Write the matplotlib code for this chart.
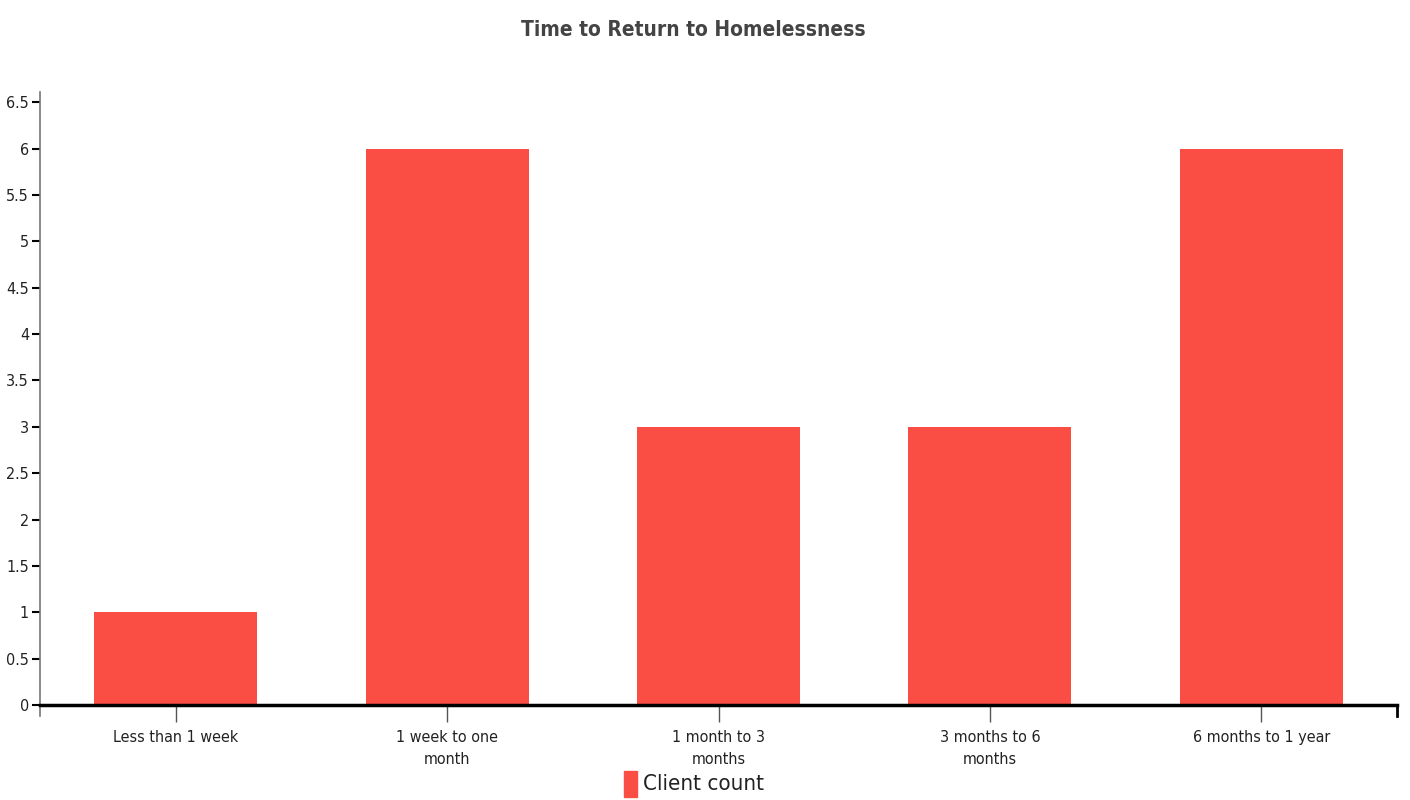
import matplotlib
matplotlib.use('Agg')
import matplotlib.pyplot as plt
from matplotlib.ticker import MultipleLocator, FormatStrFormatter

categories = ['Less than 1 week', '1 week to one\nmonth', '1 month to 3\nmonths',
              '3 months to 6\nmonths', '6 months to 1 year']
client_count = [1, 6, 3, 3, 6]

bar_color = '#fa4e44'
font = dict(fontfamily='DejaVu Sans', fontstretch='condensed')

fig = plt.figure(figsize=(14.1, 8), dpi=100)
ax = fig.add_axes([40 / 1410, 95 / 800, 1357 / 1410, 613 / 800])

x = list(range(len(categories)))
ax.bar(x, client_count, width=0.6, color=bar_color, zorder=2)

ax.set_xlim(-0.5, len(categories) - 0.5)
ax.set_ylim(0, 6.61)
ax.yaxis.set_major_locator(MultipleLocator(0.5))
ax.yaxis.set_major_formatter(FormatStrFormatter('%g'))
ax.set_xticks(x)
ax.set_xticklabels(categories, fontsize=11.5, color='#222222', linespacing=1.55, **font)
for lab in ax.get_yticklabels():
    lab.set_fontsize(11.5)
    lab.set_fontstretch('condensed')
    lab.set_color('#222222')

ax.tick_params(axis='y', length=6, width=1.5, color='black', pad=2)
ax.tick_params(axis='x', length=12, width=1, color='#555555', pad=6)

for s in ['top', 'right']:
    ax.spines[s].set_visible(False)
ax.spines['left'].set_color('#777777')
ax.spines['left'].set_linewidth(1.2)
ax.spines['left'].set_bounds(0, 6.61)
ax.spines['bottom'].set_color('black')
ax.spines['bottom'].set_linewidth(2.5)
ax.spines['bottom'].set_zorder(3)

# outer ticks at both ends of the x domain
ax.plot([-0.5, -0.5], [0, -0.12], color='#777777', lw=1.2, clip_on=False)
ax.plot([4.5, 4.5], [0, -0.12], color='black', lw=2, clip_on=False)

fig.text(0.492, 0.963, 'Time to Return to Homelessness', ha='center', va='center',
         fontsize=15, fontweight='bold', color='#444444', **font)

fig.patches.append(plt.Rectangle((624 / 1410, 3 / 800), 13 / 1410, 26 / 800,
                                 transform=fig.transFigure, color=bar_color))
fig.text(643 / 1410, 16 / 800, 'Client count', ha='left', va='center',
         fontsize=16, color='#222222', **font)

fig.savefig('out.png', dpi=100)
